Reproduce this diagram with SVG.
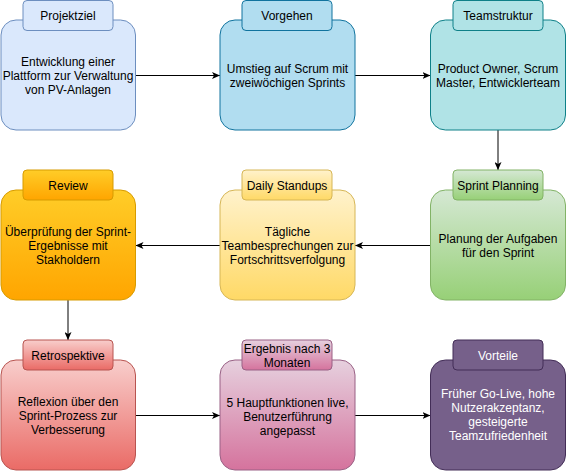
<svg xmlns="http://www.w3.org/2000/svg" width="566" height="471" viewBox="0 0 566 471">
<style>
text{font-family:"Liberation Sans",Arial,sans-serif;font-size:12px;fill:#000;text-anchor:middle}
.w{fill:#fff}
.c{fill:none;stroke:#000;stroke-width:1}
</style>
<defs>
<marker id="ah" viewBox="0 0 8 7" refX="8" refY="3.5" markerWidth="8" markerHeight="7" markerUnits="userSpaceOnUse" orient="auto">
<path d="M0,0 L8,3.5 L0,7 L2,3.5 Z" fill="#000"/>
</marker>
<linearGradient id="gGreen" x1="0" y1="0" x2="0" y2="1"><stop offset="0" stop-color="#d5e8d4"/><stop offset="1" stop-color="#97d077"/></linearGradient>
<linearGradient id="gYellow" x1="0" y1="0" x2="0" y2="1"><stop offset="0" stop-color="#fff2cc"/><stop offset="1" stop-color="#ffd966"/></linearGradient>
<linearGradient id="gOrange" x1="0" y1="0" x2="0" y2="1"><stop offset="0" stop-color="#ffcd28"/><stop offset="1" stop-color="#ffa500"/></linearGradient>
<linearGradient id="gRed" x1="0" y1="0" x2="0" y2="1"><stop offset="0" stop-color="#f8cecc"/><stop offset="1" stop-color="#ea6b66"/></linearGradient>
<linearGradient id="gPink" x1="0" y1="0" x2="0" y2="1"><stop offset="0" stop-color="#e6d0de"/><stop offset="1" stop-color="#d5739d"/></linearGradient>
</defs>
<rect width="566" height="471" fill="#fff"/>

<g id="connectors">
<line class="c" x1="135.5" y1="75.5" x2="220" y2="75.5" marker-end="url(#ah)"/>
<line class="c" x1="355" y1="75.5" x2="430.5" y2="75.5" marker-end="url(#ah)"/>
<line class="c" x1="498" y1="130" x2="498" y2="170" marker-end="url(#ah)"/>
<line class="c" x1="430.5" y1="245.5" x2="355" y2="245.5" marker-end="url(#ah)"/>
<line class="c" x1="220" y1="245.5" x2="135.5" y2="245.5" marker-end="url(#ah)"/>
<line class="c" x1="68" y1="300" x2="68" y2="340" marker-end="url(#ah)"/>
<line class="c" x1="135.5" y1="415.5" x2="220" y2="415.5" marker-end="url(#ah)"/>
<line class="c" x1="355" y1="415.5" x2="430.5" y2="415.5" marker-end="url(#ah)"/>
</g>

<g id="projektziel">
<rect x="1" y="20" width="134.5" height="110" rx="15" fill="#dae8fc" stroke="#6c8ebf"/>
<rect x="23" y="0.5" width="90" height="30" rx="4" fill="#dae8fc" stroke="#6c8ebf"/>
<text x="68" y="19.5">Projektziel</text>
<text x="68" y="66">Entwicklung einer</text>
<text x="68" y="80">Plattform zur Verwaltung</text>
<text x="68" y="94">von PV-Anlagen</text>
</g>

<g id="vorgehen">
<rect x="220" y="20" width="135" height="110" rx="15" fill="#b1ddf0" stroke="#10739e"/>
<rect x="242" y="0.5" width="90" height="30" rx="4" fill="#b1ddf0" stroke="#10739e"/>
<text x="287" y="19.5">Vorgehen</text>
<text x="287.5" y="73">Umstieg auf Scrum mit</text>
<text x="287.5" y="87">zweiwöchigen Sprints</text>
</g>

<g id="teamstruktur">
<rect x="430.5" y="20" width="135" height="110" rx="15" fill="#b0e3e6" stroke="#0e8088"/>
<rect x="453" y="0.5" width="90" height="30" rx="4" fill="#b0e3e6" stroke="#0e8088"/>
<text x="498" y="19.5">Teamstruktur</text>
<text x="498" y="73">Product Owner, Scrum</text>
<text x="498" y="87">Master, Entwicklerteam</text>
</g>

<g id="sprint-planning">
<rect x="430.5" y="190" width="135" height="110" rx="15" fill="url(#gGreen)" stroke="#82b366"/>
<rect x="453" y="170" width="90" height="30" rx="4" fill="url(#gGreen)" stroke="#82b366"/>
<text x="498" y="190">Sprint Planning</text>
<text x="498" y="243">Planung der Aufgaben</text>
<text x="498" y="257">für den Sprint</text>
</g>

<g id="daily-standups">
<rect x="220" y="190" width="135" height="110" rx="15" fill="url(#gYellow)" stroke="#d6b656"/>
<rect x="242" y="170" width="90" height="30" rx="4" fill="url(#gYellow)" stroke="#d6b656"/>
<text x="287" y="190">Daily Standups</text>
<text x="287.5" y="236">Tägliche</text>
<text x="287.5" y="250">Teambesprechungen zur</text>
<text x="287.5" y="264">Fortschrittsverfolgung</text>
</g>

<g id="review">
<rect x="1" y="190" width="134.5" height="110" rx="15" fill="url(#gOrange)" stroke="#d79b00"/>
<rect x="23" y="170" width="90" height="30" rx="4" fill="url(#gOrange)" stroke="#d79b00"/>
<text x="68" y="190">Review</text>
<text x="68" y="236">Überprüfung der Sprint-</text>
<text x="68" y="250">Ergebnisse mit</text>
<text x="68" y="264">Stakholdern</text>
</g>

<g id="retrospektive">
<rect x="1" y="360" width="134.5" height="110" rx="15" fill="url(#gRed)" stroke="#b85450"/>
<rect x="23" y="340" width="90" height="30" rx="4" fill="url(#gRed)" stroke="#b85450"/>
<text x="68" y="360">Retrospektive</text>
<text x="68" y="406">Reflexion über den</text>
<text x="68" y="420">Sprint-Prozess zur</text>
<text x="68" y="434">Verbesserung</text>
</g>

<g id="ergebnis">
<rect x="220" y="360" width="135" height="110" rx="15" fill="url(#gPink)" stroke="#996185"/>
<rect x="242" y="340" width="90" height="30" rx="4" fill="url(#gPink)" stroke="#996185"/>
<text x="287" y="353">Ergebnis nach 3</text>
<text x="287" y="367">Monaten</text>
<text x="287.5" y="407">5 Hauptfunktionen live,</text>
<text x="287.5" y="421">Benutzerführung</text>
<text x="287.5" y="435">angepasst</text>
</g>

<g id="vorteile">
<rect x="430.5" y="360" width="135" height="110" rx="15" fill="#76608a" stroke="#432d57"/>
<rect x="453" y="340" width="90" height="30" rx="4" fill="#76608a" stroke="#432d57"/>
<text class="w" x="498" y="360">Vorteile</text>
<text class="w" x="498" y="398">Früher Go-Live, hohe</text>
<text class="w" x="498" y="412">Nutzerakzeptanz,</text>
<text class="w" x="498" y="426">gesteigerte</text>
<text class="w" x="498" y="440">Teamzufriedenheit</text>
</g>
</svg>
